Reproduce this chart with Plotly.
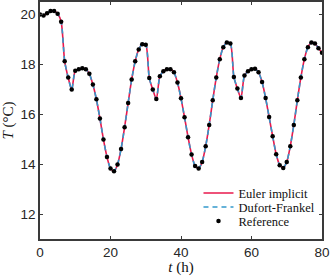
import plotly.graph_objects as go

# time (h)
t_hours = list(range(0, 81))
# temperature (°C)
T_ref = [20.00, 19.96, 20.05, 20.14, 20.14, 20.03, 19.71, 18.12, 17.47, 16.99,
         17.74, 17.80, 17.84, 17.80, 17.62, 17.19, 16.60, 15.83, 14.99, 14.29,
         13.83, 13.72, 13.99, 14.61, 15.48, 16.45, 17.39, 18.12, 18.60, 18.81,
         18.79, 17.45, 16.99, 16.61, 17.52, 17.72, 17.80, 17.80, 17.68, 17.27,
         16.64, 15.88, 15.08, 14.39, 13.93, 13.83, 14.09, 14.72, 15.57, 16.56,
         17.47, 18.21, 18.69, 18.88, 18.84, 17.49, 17.03, 16.65, 17.55, 17.72,
         17.80, 17.82, 17.68, 17.29, 16.65, 15.89, 15.12, 14.40, 13.96, 13.85,
         14.09, 14.72, 15.57, 16.56, 17.47, 18.21, 18.69, 18.88, 18.84, 18.65,
         18.47]
T_euler = T_ref
T_dufort = T_ref

x_ticks = [0, 20, 40, 60, 80]
y_ticks = [12, 14, 16, 18, 20]

RED = "#e8194d"
BLUE = "#3399cc"
AX = "#3a3a3a"
SERIF = "Liberation Serif"
SANS = "Liberation Sans"

fig = go.Figure()
fig.add_trace(go.Scatter(x=t_hours, y=T_euler, mode="lines", name="Euler implicit",
                         line=dict(color=RED, width=1.6, shape="spline", smoothing=0.7),
                         legend="legend"))
fig.add_trace(go.Scatter(x=t_hours, y=T_dufort, mode="lines", name="Dufort-Frankel",
                         line=dict(color=BLUE, width=1.6, dash="5px,4px", shape="spline", smoothing=0.7),
                         legend="legend2"))
fig.add_trace(go.Scatter(x=t_hours, y=T_ref, mode="markers", name="Reference",
                         marker=dict(color="black", size=4.5),
                         legend="legend3"))

leg_common = dict(x=0.562, xanchor="left", yanchor="middle", bgcolor="rgba(0,0,0,0)",
                  borderwidth=0, font=dict(family=SERIF, size=12.5, color="#111111"),
                  itemwidth=30)
fig.update_layout(
    width=332, height=276,
    margin=dict(l=40, r=9.5, t=1.75, b=36.75),
    plot_bgcolor="white", paper_bgcolor="white",
    showlegend=True,
    legend=dict(y=0.1926, **leg_common),
    legend2=dict(y=0.1337, **leg_common),
    legend3=dict(y=0.0747, **leg_common),
    xaxis=dict(range=[0, 80], tickvals=x_ticks, ticks="inside", ticklen=3, tickwidth=1,
               tickcolor=AX, showline=True, linecolor=AX, linewidth=1.5, mirror="ticks",
               showgrid=False, zeroline=False,
               tickfont=dict(family=SANS, size=13.5, color="#262626"),
               title=dict(text="<i>t</i> (h)", font=dict(family=SERIF, size=15, color="#111111"),
                         standoff=3)),
    yaxis=dict(range=[11, 20.5], tickvals=y_ticks, ticks="inside", ticklen=3, tickwidth=1,
               tickcolor=AX, showline=True, linecolor=AX, linewidth=1.5, mirror="ticks",
               showgrid=False, zeroline=False,
               tickfont=dict(family=SANS, size=13.5, color="#262626"),
               title=dict(text="<i>T</i> (°C)", font=dict(family=SERIF, size=15, color="#111111"),
                         standoff=5)),
)

fig.write_html("out.html", config={"displayModeBar": False},
               post_script="document.body.style.margin='0';")
